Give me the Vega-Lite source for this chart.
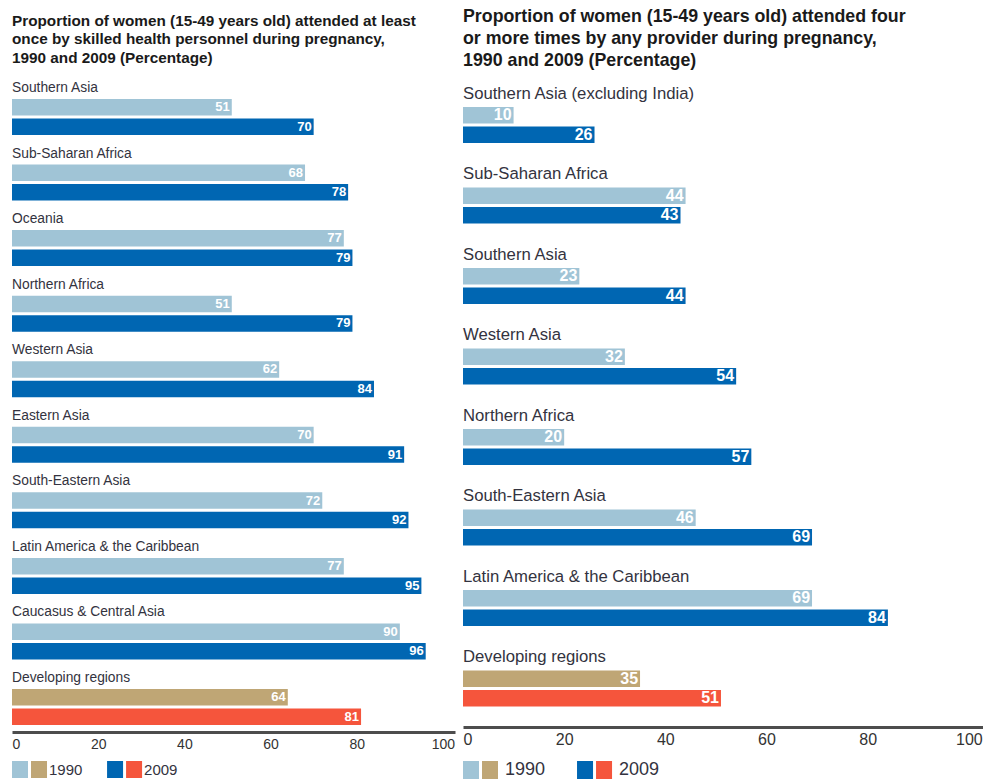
{
  "$schema": "https://vega.github.io/schema/vega-lite/v6.json",
  "padding": {"left": 12, "top": 8, "right": 0, "bottom": 0},
  "background": "white",
  "config": {"view": {"stroke": null}, "font": "Liberation Sans"},
  "spacing": 10,
  "vconcat": [
    {
      "spacing": 8,
      "hconcat": [
        {
          "title": {"text": ["Proportion of women (15-49 years old) attended at least", "once by skilled health personnel during pregnancy,", "1990 and 2009 (Percentage)"], "anchor": "start", "frame": "group", "fontSize": 15.3, "fontWeight": "bold", "lineHeight": 18.5, "offset": 15, "color": "#1a1a1a"},
          "width": 443,
          "height": 651,
          "data": {"values": [
            {"region": "Southern Asia", "year": "1990", "series": "1990", "value": 51},
            {"region": "Southern Asia", "year": "2009", "series": "2009", "value": 70},
            {"region": "Sub-Saharan Africa", "year": "1990", "series": "1990", "value": 68},
            {"region": "Sub-Saharan Africa", "year": "2009", "series": "2009", "value": 78},
            {"region": "Oceania", "year": "1990", "series": "1990", "value": 77},
            {"region": "Oceania", "year": "2009", "series": "2009", "value": 79},
            {"region": "Northern Africa", "year": "1990", "series": "1990", "value": 51},
            {"region": "Northern Africa", "year": "2009", "series": "2009", "value": 79},
            {"region": "Western Asia", "year": "1990", "series": "1990", "value": 62},
            {"region": "Western Asia", "year": "2009", "series": "2009", "value": 84},
            {"region": "Eastern Asia", "year": "1990", "series": "1990", "value": 70},
            {"region": "Eastern Asia", "year": "2009", "series": "2009", "value": 91},
            {"region": "South-Eastern Asia", "year": "1990", "series": "1990", "value": 72},
            {"region": "South-Eastern Asia", "year": "2009", "series": "2009", "value": 92},
            {"region": "Latin America & the Caribbean", "year": "1990", "series": "1990", "value": 77},
            {"region": "Latin America & the Caribbean", "year": "2009", "series": "2009", "value": 95},
            {"region": "Caucasus & Central Asia", "year": "1990", "series": "1990", "value": 90},
            {"region": "Caucasus & Central Asia", "year": "2009", "series": "2009", "value": 96},
            {"region": "Developing regions", "year": "1990", "series": "1990 developing", "value": 64},
            {"region": "Developing regions", "year": "2009", "series": "2009 developing", "value": 81}
          ]},
          "encoding": {
            "y": {"field": "region", "type": "nominal", "axis": null, "scale": {"domain": ["Southern Asia", "Sub-Saharan Africa", "Oceania", "Northern Africa", "Western Asia", "Eastern Asia", "South-Eastern Asia", "Latin America & the Caribbean", "Caucasus & Central Asia", "Developing regions"], "paddingInner": 0.4509, "paddingOuter": 0.1907, "align": 0.72}}
          },
          "layer": [
            {
              "mark": {"type": "bar"},
              "encoding": {
                "x": {"field": "value", "type": "quantitative", "scale": {"domain": [0, 102.8], "nice": false}, "axis": {"values": [0, 20, 40, 60, 80, 100], "grid": false, "ticks": false, "title": null, "domainColor": "#4d4d4d", "domainWidth": 3, "labelFontSize": 14, "labelColor": "#333", "labelPadding": 5, "labelFlush": 2}},
                "yOffset": {"field": "year", "type": "nominal", "scale": {"domain": ["1990", "2009"], "paddingInner": 0.154}},
                "color": {"field": "series", "type": "nominal", "legend": null, "scale": {"domain": ["1990", "2009", "1990 developing", "2009 developing"], "range": ["#a0c4d6", "#0066b2", "#bfa675", "#f5553c"]}}
              }
            },
            {
              "mark": {"type": "text", "align": "right", "baseline": "middle", "dx": -2, "color": "white", "fontWeight": "bold", "fontSize": 13},
              "encoding": {
                "x": {"field": "value", "type": "quantitative"},
                "yOffset": {"field": "year", "type": "nominal"},
                "text": {"field": "value", "type": "quantitative"}
              }
            },
            {
              "transform": [{"filter": "datum.year == '1990'"}],
              "mark": {"type": "text", "align": "left", "baseline": "middle", "dy": -11, "fontSize": 13.8, "color": "#333340"},
              "encoding": {
                "x": {"datum": 0, "type": "quantitative"},
                "y": {"field": "region", "type": "nominal", "bandPosition": 0},
                "text": {"field": "region", "type": "nominal"}
              }
            }
          ]
        },
        {
          "title": {"text": ["Proportion of women (15-49 years old) attended four", "or more times by any provider during pregnancy,", "1990 and 2009 (Percentage)"], "anchor": "start", "frame": "group", "fontSize": 17.8, "fontWeight": "bold", "lineHeight": 22, "offset": 11, "color": "#1a1a1a"},
          "width": 520,
          "height": 646,
          "data": {"values": [
            {"region": "Southern Asia (excluding India)", "year": "1990", "series": "1990", "value": 10},
            {"region": "Southern Asia (excluding India)", "year": "2009", "series": "2009", "value": 26},
            {"region": "Sub-Saharan Africa", "year": "1990", "series": "1990", "value": 44},
            {"region": "Sub-Saharan Africa", "year": "2009", "series": "2009", "value": 43},
            {"region": "Southern Asia", "year": "1990", "series": "1990", "value": 23},
            {"region": "Southern Asia", "year": "2009", "series": "2009", "value": 44},
            {"region": "Western Asia", "year": "1990", "series": "1990", "value": 32},
            {"region": "Western Asia", "year": "2009", "series": "2009", "value": 54},
            {"region": "Northern Africa", "year": "1990", "series": "1990", "value": 20},
            {"region": "Northern Africa", "year": "2009", "series": "2009", "value": 57},
            {"region": "South-Eastern Asia", "year": "1990", "series": "1990", "value": 46},
            {"region": "South-Eastern Asia", "year": "2009", "series": "2009", "value": 69},
            {"region": "Latin America & the Caribbean", "year": "1990", "series": "1990", "value": 69},
            {"region": "Latin America & the Caribbean", "year": "2009", "series": "2009", "value": 84},
            {"region": "Developing regions", "year": "1990", "series": "1990 developing", "value": 35},
            {"region": "Developing regions", "year": "2009", "series": "2009 developing", "value": 51}
          ]},
          "encoding": {
            "y": {"field": "region", "type": "nominal", "axis": null, "scale": {"domain": ["Southern Asia (excluding India)", "Sub-Saharan Africa", "Southern Asia", "Western Asia", "Northern Africa", "South-Eastern Asia", "Latin America & the Caribbean", "Developing regions"], "paddingInner": 0.4534, "paddingOuter": 0.2391, "align": 0.675}}
          },
          "layer": [
            {
              "mark": {"type": "bar"},
              "encoding": {
                "x": {"field": "value", "type": "quantitative", "scale": {"domain": [0, 102.8], "nice": false}, "axis": {"values": [0, 20, 40, 60, 80, 100], "grid": false, "ticks": false, "title": null, "domainColor": "#4d4d4d", "domainWidth": 3, "labelFontSize": 16, "labelColor": "#333", "labelPadding": 4, "labelFlush": 2}},
                "yOffset": {"field": "year", "type": "nominal", "scale": {"domain": ["1990", "2009"], "paddingInner": 0.1667}},
                "color": {"field": "series", "type": "nominal", "legend": null, "scale": {"domain": ["1990", "2009", "1990 developing", "2009 developing"], "range": ["#a0c4d6", "#0066b2", "#bfa675", "#f5553c"]}}
              }
            },
            {
              "mark": {"type": "text", "align": "right", "baseline": "middle", "dx": -2, "color": "white", "fontWeight": "bold", "fontSize": 16},
              "encoding": {
                "x": {"field": "value", "type": "quantitative"},
                "yOffset": {"field": "year", "type": "nominal"},
                "text": {"field": "value", "type": "quantitative"}
              }
            },
            {
              "transform": [{"filter": "datum.year == '1990'"}],
              "mark": {"type": "text", "align": "left", "baseline": "middle", "dy": -13, "fontSize": 16.7, "color": "#333340"},
              "encoding": {
                "x": {"datum": 0, "type": "quantitative"},
                "y": {"field": "region", "type": "nominal", "bandPosition": 0},
                "text": {"field": "region", "type": "nominal"}
              }
            }
          ]
        }
      ]
    },
    {
      "spacing": 281,
      "hconcat": [
        {
          "width": 170,
          "height": 17,
          "data": {"values": [
            {"year": "1990", "kind": "regions", "series": "1990"},
            {"year": "1990", "kind": "developing", "series": "1990 developing"},
            {"year": "2009", "kind": "regions", "series": "2009"},
            {"year": "2009", "kind": "developing", "series": "2009 developing"}
          ]},
          "encoding": {
            "x": {"field": "year", "type": "nominal", "axis": null, "scale": {"domain": ["1990", "2009"], "paddingInner": 0.6316, "paddingOuter": 0.21, "align": 0}}
          },
          "layer": [
            {
              "mark": {"type": "bar"},
              "encoding": {
                "xOffset": {"field": "kind", "type": "nominal", "scale": {"domain": ["regions", "developing"], "paddingInner": 0.158, "paddingOuter": 0}},
                "color": {"field": "series", "type": "nominal", "legend": null, "scale": {"domain": ["1990", "2009", "1990 developing", "2009 developing"], "range": ["#a0c4d6", "#0066b2", "#bfa675", "#f5553c"]}}
              }
            },
            {
              "transform": [{"filter": "datum.kind == 'developing'"}],
              "mark": {"type": "text", "align": "left", "baseline": "middle", "dx": 2, "fontSize": 15, "color": "#333340"},
              "encoding": {
                "x": {"field": "year", "type": "nominal", "bandPosition": 1},
                "text": {"field": "year", "type": "nominal"}
              }
            }
          ]
        },
        {
          "width": 200,
          "height": 18,
          "data": {"values": [
            {"year": "1990", "kind": "regions", "series": "1990"},
            {"year": "1990", "kind": "developing", "series": "1990 developing"},
            {"year": "2009", "kind": "regions", "series": "2009"},
            {"year": "2009", "kind": "developing", "series": "2009 developing"}
          ]},
          "encoding": {
            "x": {"field": "year", "type": "nominal", "axis": null, "scale": {"domain": ["1990", "2009"], "paddingInner": 0.658, "paddingOuter": 0.206, "align": 0}}
          },
          "layer": [
            {
              "mark": {"type": "bar"},
              "encoding": {
                "xOffset": {"field": "kind", "type": "nominal", "scale": {"domain": ["regions", "developing"], "paddingInner": 0.227, "paddingOuter": 0}},
                "color": {"field": "series", "type": "nominal", "legend": null, "scale": {"domain": ["1990", "2009", "1990 developing", "2009 developing"], "range": ["#a0c4d6", "#0066b2", "#bfa675", "#f5553c"]}}
              }
            },
            {
              "transform": [{"filter": "datum.kind == 'developing'"}],
              "mark": {"type": "text", "align": "left", "baseline": "middle", "dx": 3, "fontSize": 18, "color": "#333340"},
              "encoding": {
                "x": {"field": "year", "type": "nominal", "bandPosition": 1},
                "text": {"field": "year", "type": "nominal"}
              }
            }
          ]
        }
      ]
    }
  ]
}
